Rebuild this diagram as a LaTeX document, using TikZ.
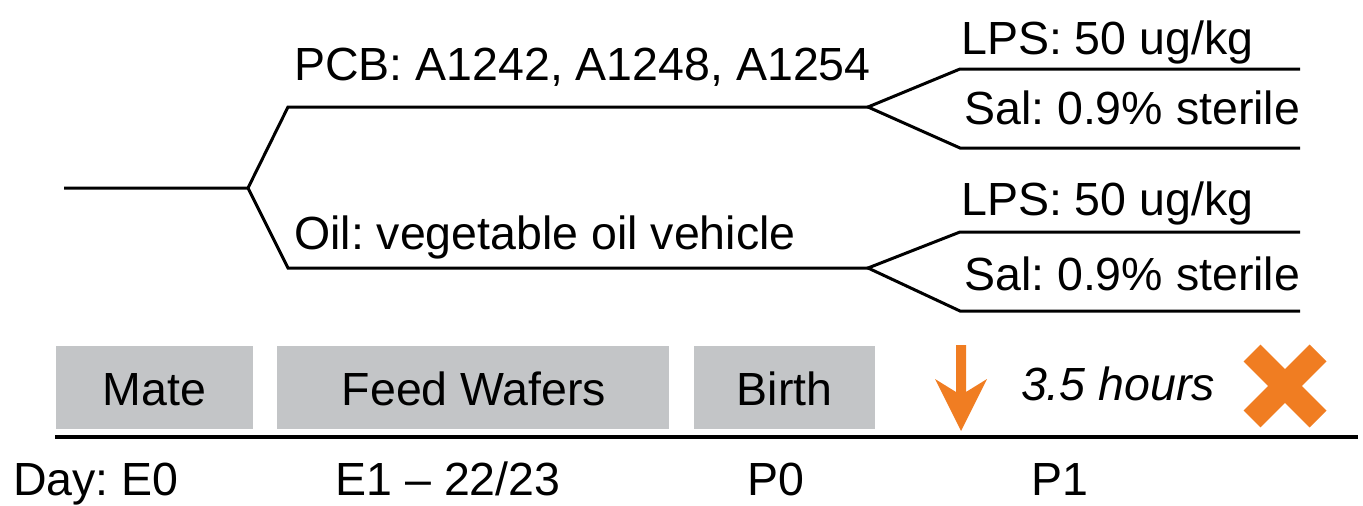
\documentclass[tikz,border=0pt]{standalone}
\usepackage{fontspec}
\setmainfont{Liberation Sans}
\frenchspacing
\definecolor{boxgray}{HTML}{C3C5C7}
\definecolor{signalorange}{HTML}{F07D22}
\begin{document}
\begin{tikzpicture}[x=1pt,y=-1pt,
  lbl/.style={inner sep=0pt,font=\fontsize{46.5}{52}\selectfont},
  branch/.style={line width=3pt,line join=miter},
  phase/.style={fill=boxgray,draw=none},
  timeline/.style={line width=4.5pt}]
\useasboundingbox (0,0) rectangle (1363,506);

% tree of treatment groups
\coordinate (root) at (64,188);
\coordinate (fork) at (248,188);
\coordinate (pcbA) at (288,107);
\coordinate (pcbB) at (868,107);
\coordinate (oilA) at (288,268);
\coordinate (oilB) at (868,268);
\coordinate (p1a) at (960,69);  \coordinate (p1b) at (1300,69);
\coordinate (p2a) at (960,148); \coordinate (p2b) at (1300,148);
\coordinate (o1a) at (960,232); \coordinate (o1b) at (1300,232);
\coordinate (o2a) at (960,311); \coordinate (o2b) at (1300,311);

\draw[branch] (root) -- (fork) -- (pcbA) -- (pcbB);
\draw[branch] (fork) -- (oilA) -- (oilB);
\draw[branch] (p1b) -- (p1a) -- (pcbB) -- (p2a) -- (p2b);
\draw[branch] (o1b) -- (o1a) -- (oilB) -- (o2a) -- (o2b);

\node[lbl,anchor=base west] (pcb) at (294,80) {PCB: A1242, A1248, A1254};
\node[lbl,anchor=base west] (oil) at (294,249) {Oil: vegetable oil vehicle};
\node[lbl,anchor=base west] (lps1) at (961,54) {LPS: 50 ug/kg};
\node[lbl,anchor=base west] (sal1) at (964,124) {Sal: 0.9\% sterile};
\node[lbl,anchor=base west] (lps2) at (961,215) {LPS: 50 ug/kg};
\node[lbl,anchor=base west] (sal2) at (964,290) {Sal: 0.9\% sterile};

% phase boxes
\fill[phase] (56,346) rectangle (253,429);
\fill[phase] (277,346) rectangle (669,429);
\fill[phase] (694,346) rectangle (875,429);
\node[lbl,anchor=base] (mate) at (154.5,405) {Mate};
\node[lbl,anchor=base] (feed) at (474,405) {Feed Wafers};
\node[lbl,anchor=base] (birth) at (784.5,405) {Birth};

% timeline
\coordinate (tl0) at (55,437);
\coordinate (tl1) at (1358,437);
\draw[timeline] (tl0) -- (tl1);

% injection arrow
\fill[signalorange] (956,345) -- (966,345) -- (966,392) -- (987,379) -- (961,431)
  -- (935,379) -- (956,392) -- cycle;
\node[lbl,anchor=base,font=\fontsize{46.5}{52}\selectfont\itshape] (hrs) at (1118,400) {3.5 hours};
% sacrifice mark
\coordinate (xc) at (1285,386);
\draw[signalorange,line width=24pt] ([shift={(-33,-33)}]xc) -- ([shift={(33,33)}]xc);
\draw[signalorange,line width=24pt] ([shift={(33,-33)}]xc) -- ([shift={(-33,33)}]xc);

% day labels
\node[lbl,anchor=base west] (d0) at (13,495) {Day: E0};
\node[lbl,anchor=base] (d1) at (448,495) {E1 -- 22/23};
\node[lbl,anchor=base] (d2) at (776,495) {P0};
\node[lbl,anchor=base] (d3) at (1060,495) {P1};
\end{tikzpicture}
\end{document}
